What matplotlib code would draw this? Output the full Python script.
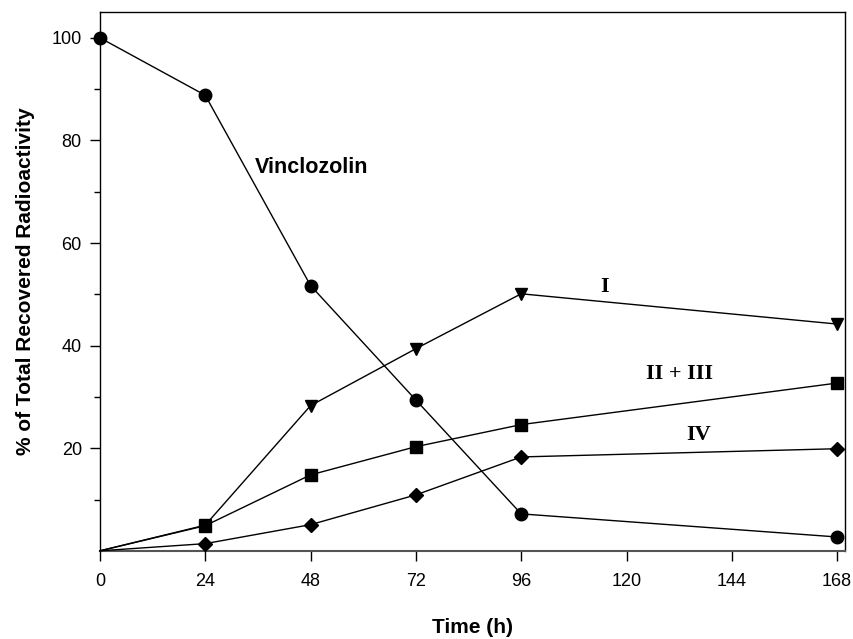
import matplotlib
matplotlib.use("Agg")
import matplotlib.pyplot as plt
from matplotlib.ticker import FixedLocator

time_h = [0, 24, 48, 72, 96, 168]
vinclozolin = [100, 88.8, 51.7, 29.4, 7.2, 2.7]
met_I = [0, 5.0, 28.3, 39.4, 50.1, 44.2]
met_II_III = [0, 4.9, 14.8, 20.3, 24.6, 32.7]
met_IV = [0, 1.4, 5.1, 10.9, 18.3, 19.9]
x_ticks = [0, 24, 48, 72, 96, 120, 144, 168]
y_ticks = [20, 40, 60, 80, 100]

plt.rcParams['font.family'] = ['Liberation Sans', 'DejaVu Sans']

fig = plt.figure(figsize=(8.54, 6.39), dpi=100)
ax = fig.add_axes([0.117, 0.138, 0.8725, 0.843])

lw = 1.0
ax.plot(time_h, vinclozolin, color='black', lw=lw, marker='o', ms=9, zorder=3, clip_on=False)
ax.plot(time_h, met_I, color='black', lw=lw, marker='v', ms=9, markevery=list(range(1, 6)), zorder=3, clip_on=False)
ax.plot(time_h, met_II_III, color='black', lw=lw, marker='s', ms=8, markevery=list(range(1, 6)), zorder=3, clip_on=False)
ax.plot(time_h, met_IV, color='black', lw=lw, marker='D', ms=7.5, markevery=list(range(1, 6)), zorder=3, clip_on=False)

ax.set_xlim(0, 169.8)
ax.set_ylim(0, 105)
ax.xaxis.set_major_locator(FixedLocator(x_ticks))
ax.yaxis.set_major_locator(FixedLocator(y_ticks))
ax.yaxis.set_minor_locator(FixedLocator([10, 30, 50, 70, 90]))
ax.tick_params(axis='both', which='major', direction='out', length=7, width=1, labelsize=13, colors='black', pad=6)
ax.tick_params(axis='y', which='minor', direction='out', length=4, width=1)
ax.tick_params(axis='x', pad=9)

for s in ax.spines.values():
    s.set_linewidth(1.0)
ax.spines['bottom'].set_color('#555555')
ax.spines['bottom'].set_linewidth(1.5)

ax.set_xlabel('Time (h)', fontsize=15, fontweight='bold', labelpad=20)
ax.set_ylabel('% of Total Recovered Radioactivity', fontsize=15, fontweight='bold', labelpad=12)

ax.text(48.3, 74.7, 'Vinclozolin', fontsize=15.5, fontweight='bold', ha='center', va='center')
serif = ['Liberation Serif', 'DejaVu Serif']
ax.text(115, 51.5, 'I', fontsize=16, fontweight='bold', ha='center', va='center', family=serif)
ax.text(132, 34.5, 'II + III', fontsize=16, fontweight='bold', ha='center', va='center', family=serif)
ax.text(136.5, 22.5, 'IV', fontsize=16, fontweight='bold', ha='center', va='center', family=serif)

fig.savefig('out.png', dpi=100)
